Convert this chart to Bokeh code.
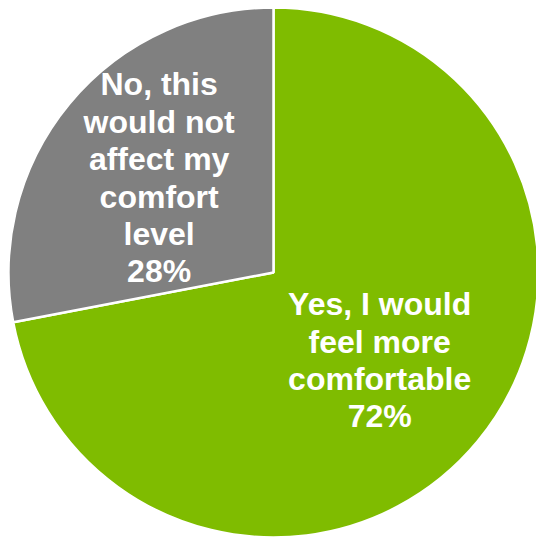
import math
from bokeh.plotting import figure
from bokeh.models import Range1d, ColumnDataSource
from bokeh.core.properties import value
from bokeh.embed import file_html
from bokeh.resources import INLINE

# Data
categories = ["Yes, I would\nfeel more\ncomfortable", "No, this\nwould not\naffect my\ncomfort\nlevel"]
shares = [72, 28]
colors = ["#7FBC00", "#808080"]

W, H = 536, 539
p = figure(width=W, height=H, output_backend="svg", toolbar_location=None,
           x_range=Range1d(0, W), y_range=Range1d(0, H), min_border=0)
p.axis.visible = False
p.grid.visible = False
p.outline_line_color = None
p.background_fill_color = "white"
p.border_fill_color = "white"

cx, cy, R = 273, H - 272, 265
total = float(sum(shares))
starts, ends, mids = [], [], []
cum = 0.0
for s in shares:
    a0 = math.pi / 2 - 2 * math.pi * cum / total
    cum += s
    a1 = math.pi / 2 - 2 * math.pi * cum / total
    starts.append(a0)
    ends.append(a1)
    mids.append((a0 + a1) / 2)

src = ColumnDataSource(dict(start=starts, end=ends, color=colors))
p.wedge(x=cx, y=cy, radius=R, start_angle="start", end_angle="end", direction="clock",
        fill_color="color", line_color="white", line_width=2.5, source=src)

label_r = [0.52, 0.56]
lx = [cx + R * f * math.cos(m) for f, m in zip(label_r, mids)]
ly = [cy + R * f * math.sin(m) for f, m in zip(label_r, mids)]
texts = [f"{c}\n{s}%" for c, s in zip(categories, shares)]
p.text(x=lx, y=ly, text=texts, text_align="center", text_baseline="middle",
       text_color="white", text_font=value("Liberation Sans"), text_font_style="bold",
       text_font_size="32px", text_line_height=1.04)

open("out.html", "w").write(file_html(p, INLINE))
